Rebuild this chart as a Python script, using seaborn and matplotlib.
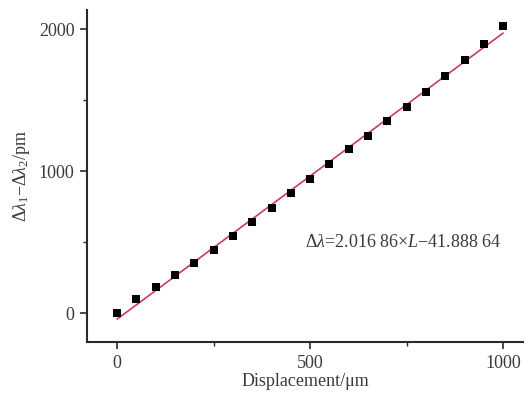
import numpy as np
import pandas as pd
import matplotlib
matplotlib.use("Agg")
import matplotlib.pyplot as plt
import seaborn as sns

# Measured wavelength-shift difference vs. displacement
displacement = [0, 50, 100, 150, 200, 250, 300, 350, 400, 450, 500,
                550, 600, 650, 700, 750, 800, 850, 900, 950, 1000]
delta_lambda = [0, 99, 183, 268, 352, 444, 542, 641, 739, 845, 944,
                1049, 1155, 1246, 1352, 1451, 1556, 1669, 1782, 1901, 2028]

# Linear fit coefficients
fit_slope = 2.01686
fit_intercept = -41.88864
fit_range = [0, 1000]

x_ticks = [0, 500, 1000]
y_ticks = [0, 1000, 2000]

sns.set_style("ticks")
plt.rcParams["font.family"] = ["Liberation Serif", "DejaVu Serif"]
plt.rcParams["mathtext.fontset"] = "custom"
plt.rcParams["mathtext.rm"] = "Liberation Serif"
plt.rcParams["mathtext.it"] = "Liberation Serif:italic"
plt.rcParams["mathtext.bf"] = "Liberation Serif:bold"

text_color = "#3a3a3a"
fs = 13

fig = plt.figure(figsize=(5.24, 3.96), dpi=100)
ax = fig.add_axes([0.166, 0.136, 0.834, 0.839])

df_pts = pd.DataFrame({"L": displacement, "dl": delta_lambda})
fit_x = np.array(fit_range, dtype=float)
df_fit = pd.DataFrame({"L": fit_x, "dl": fit_slope * fit_x + fit_intercept})

sns.lineplot(data=df_fit, x="L", y="dl", ax=ax, color="#cc3a5e", linewidth=1.2)
sns.scatterplot(data=df_pts, x="L", y="dl", ax=ax, marker="s", s=32,
                color="black", edgecolor="black", linewidth=0, zorder=3)

ax.set_xlim(-78, 1054)
ax.set_ylim(-204, 2138)
ax.set_xticks(x_ticks)
ax.set_yticks(y_ticks)
ax.set_xticks([250, 750], minor=True)
ax.set_yticks([500, 1500], minor=True)

sns.despine(ax=ax)
for side in ("left", "bottom"):
    ax.spines[side].set_linewidth(1.5)
    ax.spines[side].set_color("#2a2a2a")

ax.tick_params(axis="both", which="major", direction="out", length=5,
               width=1.2, color="#2a2a2a", labelsize=fs, labelcolor=text_color, pad=4)
ax.tick_params(axis="both", which="minor", direction="out", length=3,
               width=1.0, color="#2a2a2a")

ax.set_xlabel("Displacement/\u03bcm", fontsize=fs, color=text_color, labelpad=1)
ax.set_ylabel(r"$\Delta\mathit{\lambda}_1$" + "\u2212" + r"$\Delta\mathit{\lambda}_2$" + "/pm",
              fontsize=fs, color=text_color, labelpad=5)

ax.text(487, 500,
        "\u0394" + r"$\mathit{\lambda}$" + "=2.016 86\u00d7" + r"$\mathit{L}$" + "\u221241.888 64",
        fontsize=fs, color=text_color, ha="left", va="center")

fig.savefig("out.png", dpi=100)
